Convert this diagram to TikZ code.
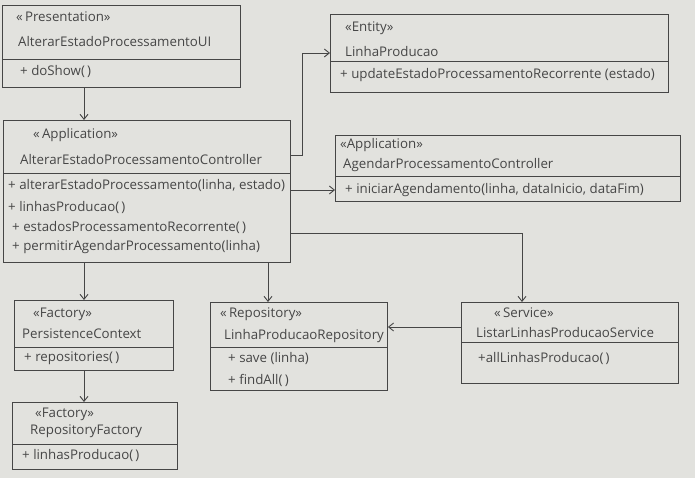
\documentclass[tikz,border=0pt]{standalone}
\usepackage{fontspec}
\setmainfont{Open Sans}
\usetikzlibrary{calc,arrows.meta}
\definecolor{paper}{RGB}{226,226,222}
\definecolor{pencil}{RGB}{70,70,70}
\tikzset{
  umlbox/.style={draw=pencil, line width=0.9pt, rectangle, anchor=north west, inner sep=0pt},
  divider/.style={draw=pencil, line width=0.9pt},
  txt/.style={anchor=west, inner sep=0pt, text=pencil, font=\fontsize{13.3}{15}\selectfont},
  arr/.style={draw=pencil, line width=0.9pt, -{Straight Barb[length=5pt,width=8pt]}},
  wire/.style={draw=pencil, line width=0.9pt}
}
\begin{document}
\begin{tikzpicture}[x=1pt,y=-1pt]
\fill[paper] (0,0) rectangle (695,478);
\useasboundingbox (0,0) rectangle (695,478);

% class boxes
\node[umlbox, minimum width=238pt, minimum height=82pt] (ui)   at (2,5)   {};
\node[umlbox, minimum width=287pt, minimum height=142pt] (ctrl) at (3,120) {};
\node[umlbox, minimum width=338pt, minimum height=78pt] (ent)  at (330,14) {};
\node[umlbox, minimum width=345pt, minimum height=66pt] (agd)  at (335,135) {};
\node[umlbox, minimum width=159pt, minimum height=70pt] (pc)   at (14,300) {};
\node[umlbox, minimum width=165pt, minimum height=67pt] (rf)   at (12,402) {};
\node[umlbox, minimum width=177pt, minimum height=88pt] (repo) at (210,302) {};
\node[umlbox, minimum width=217pt, minimum height=81pt] (svc)  at (461,302) {};

% compartment dividers
\draw[divider] ($(ui.north west)+(0,54)$)   -- ($(ui.north east)+(0,54)$);
\draw[divider] ($(ctrl.north west)+(0,53)$) -- ($(ctrl.north east)+(0,53)$);
\draw[divider] ($(ent.north west)+(0,47)$)  -- ($(ent.north east)+(0,47)$);
\draw[divider] ($(agd.north west)+(0,41)$)  -- ($(agd.north east)+(0,41)$);
\draw[divider] ($(pc.north west)+(0,47)$)   -- ($(pc.north east)+(0,47)$);
\draw[divider] ($(rf.north west)+(0,42)$)   -- ($(rf.north east)+(0,42)$);
\draw[divider] ($(repo.north west)+(0,45)$) -- ($(repo.north east)+(0,45)$);
\draw[divider] ($(svc.north west)+(0,40)$)  -- ($(svc.north east)+(0,40)$);

% AlterarEstadoProcessamentoUI
\node[txt] (ui-s) at (16,17) {<<\,Presentation>>};
\node[txt] (ui-n) at (18,42) {AlterarEstadoProcessamentoUI};
\node[txt] (ui-m) at (20,72) {+ doShow(\,)};

% LinhaProducao
\node[txt] (ent-s) at (345,28) {<<Entity>>};
\node[txt] (ent-n) at (345,52) {LinhaProducao};
\node[txt] (ent-m) at (340,75) {+ updateEstadoProcessamentoRecorrente (estado)};

% AlterarEstadoProcessamentoController
\node[txt] (ctrl-s)  at (33,135) {<<\,Application>>};
\node[txt] (ctrl-n)  at (20,160) {AlterarEstadoProcessamentoController};
\node[txt] (ctrl-m1) at (8,186)  {+ alterarEstadoProcessamento(linha, estado)};
\node[txt] (ctrl-m2) at (8,207)  {+ linhasProducao(\,)};
\node[txt] (ctrl-m3) at (12,227) {+ estadosProcessamentoRecorrente(\,)};
\node[txt] (ctrl-m4) at (12,247) {+ permitirAgendarProcessamento(linha)};

% AgendarProcessamentoController
\node[txt] (agd-s) at (340,145) {<<Application>>};
\node[txt] (agd-n) at (343,165) {AgendarProcessamentoController};
\node[txt] (agd-m) at (345,190) {+ iniciarAgendamento(linha, dataInicio, dataFim)};

% PersistenceContext
\node[txt] (pc-s) at (33,314) {<<Factory>>};
\node[txt] (pc-n) at (22,334) {PersistenceContext};
\node[txt] (pc-m) at (24,358) {+ repositories(\,)};

% RepositoryFactory
\node[txt] (rf-s) at (35,414) {<<Factory>>};
\node[txt] (rf-n) at (30,431) {RepositoryFactory};
\node[txt] (rf-m) at (22,455) {+ linhasProducao(\,)};

% LinhaProducaoRepository
\node[txt] (repo-s)  at (220,314) {<<\,Repository>>};
\node[txt] (repo-n)  at (224,336) {LinhaProducaoRepository};
\node[txt] (repo-m1) at (228,358) {+ save (linha)};
\node[txt] (repo-m2) at (228,380) {+ findAll(\,)};

% ListarLinhasProducaoService
\node[txt] (svc-s) at (494,313) {<<\,Service>>};
\node[txt] (svc-n) at (476,333) {ListarLinhasProducaoService};
\node[txt] (svc-m) at (478,358) {+allLinhasProducao(\,)};

% dependencies
\draw[arr] ($(ui.south west)+(82,0)$) -- ($(ctrl.north west)+(81,0)$);
\draw[arr] ($(ctrl.north east)+(0,35)$) -- ++(12,0) |- ($(ent.north west)+(0,39)$);
\draw[arr] ($(ctrl.north east)+(0,70)$) coordinate (ca) -- (ca -| agd.west);
\draw[arr] ($(ctrl.north east)+(0,113)$) -| ($(svc.north west)+(61,0)$);
\draw[arr] ($(ctrl.south west)+(265,0)$) -- ($(repo.north west)+(58,0)$);
\draw[arr] ($(ctrl.south west)+(81,0)$) -- ($(pc.north west)+(70,0)$);
\draw[arr] ($(pc.south west)+(70,0)$) -- ($(rf.north west)+(72,0)$);
\draw[arr] ($(svc.north west)+(0,25)$) coordinate (sa) -- (sa -| repo.east);
\end{tikzpicture}
\end{document}
